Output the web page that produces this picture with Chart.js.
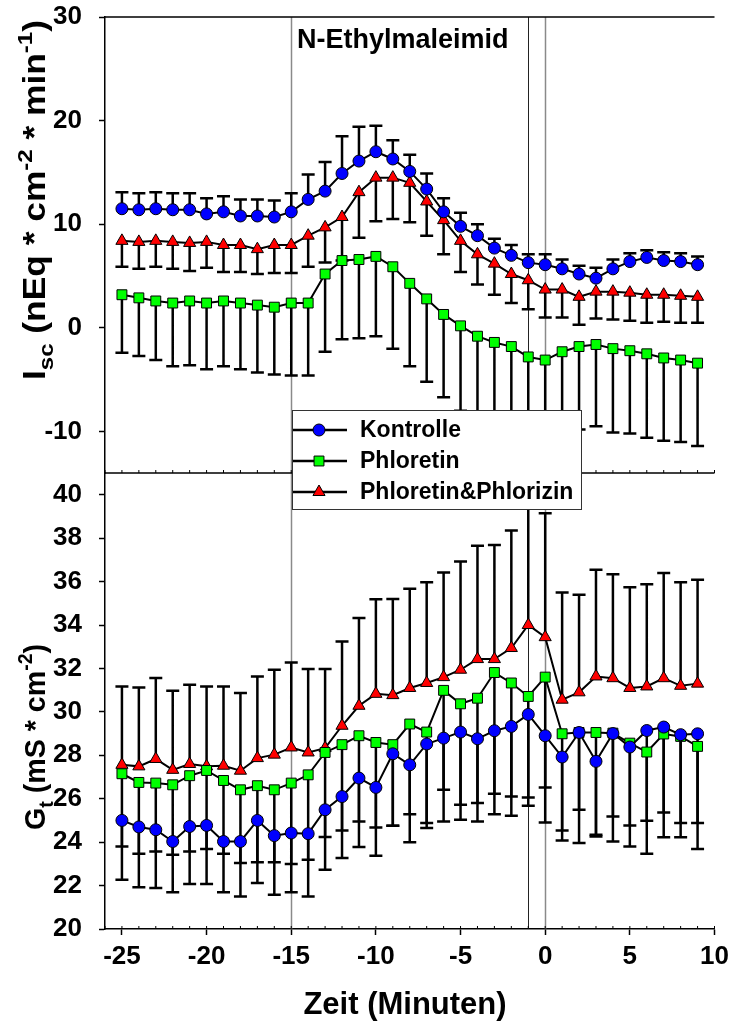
<!DOCTYPE html>
<html>
<head>
<meta charset="utf-8">
<script src="https://cdn.jsdelivr.net/npm/chart.js@4.4.1/dist/chart.umd.min.js"></script>
<style>
    html, body { margin: 0; padding: 0; background: #fff; }
    #wrap { width: 732px; height: 1027px; position: relative; }
</style>
</head>
<body>
<div id="wrap"><canvas id="myChart" width="732" height="1027"></canvas></div>
<script>
let ctx = document.getElementById('myChart');

// time axis (minutes)
let ZEIT = [-25, -24, -23, -22, -21, -20, -19, -18, -17, -16, -15, -14, -13, -12, -11, -10, -9, -8, -7, -6, -5, -4, -3, -2, -1, 0, 1, 2, 3, 4, 5, 6, 7, 8, 9]
let X_TICKS = [-25, -20, -15, -10, -5, 0, 5, 10]
let ISC_TICKS = [-10, 0, 10, 20, 30]
let GT_TICKS = [20, 22, 24, 26, 28, 30, 32, 34, 36, 38, 40]
let MARK_LINES = [-15, -1, 0]

// Isc (top panel)
let ISC_KONTROLLE = [11.5, 11.4, 11.5, 11.4, 11.4, 11.0, 11.2, 10.8, 10.8, 10.7, 11.2, 12.4, 13.2, 14.9, 16.1, 17.0, 16.3, 15.1, 13.4, 11.2, 9.8, 8.9, 7.7, 7.0, 6.3, 6.1, 5.7, 5.2, 4.8, 5.7, 6.4, 6.8, 6.5, 6.4, 6.1]
let ISC_KONTROLLE_ERR = [13.1, 13.0, 13.1, 13.0, 13.0, 12.5, 12.7, 12.4, 12.4, 12.3, 13.0, 14.8, 16.0, 18.5, 19.4, 19.5, 18.1, 16.7, 14.9, 12.5, 11.1, 10.0, 8.6, 8.0, 7.1, 7.1, 6.6, 6.0, 5.8, 6.6, 7.2, 7.5, 7.3, 7.2, 6.9]
let ISC_PHLORETIN = [3.2, 2.9, 2.6, 2.4, 2.6, 2.4, 2.6, 2.4, 2.2, 2.0, 2.4, 2.4, 5.2, 6.5, 6.6, 6.9, 5.9, 4.3, 2.8, 1.3, 0.2, -0.8, -1.4, -1.8, -2.8, -3.1, -2.3, -1.8, -1.6, -2.0, -2.2, -2.5, -2.9, -3.1, -3.4]
let ISC_PHLORETIN_ERR = [-2.4, -2.7, -3.1, -3.7, -3.6, -4.0, -3.7, -4.0, -4.3, -4.5, -4.6, -4.6, -2.3, -1.1, -1.0, -0.8, -2.0, -3.7, -5.2, -6.7, -8.0, -8.7, -9.0, -9.3, -9.8, -10.0, -9.9, -9.8, -9.5, -10.1, -10.2, -10.6, -10.9, -11.0, -11.4]
let ISC_PHLORIZIN = [8.4, 8.3, 8.4, 8.3, 8.2, 8.3, 8.0, 8.0, 7.6, 8.0, 8.0, 8.9, 9.7, 10.7, 13.1, 14.5, 14.5, 14.0, 12.2, 10.4, 8.4, 7.1, 6.2, 5.2, 4.6, 3.7, 3.7, 3.0, 3.5, 3.5, 3.4, 3.2, 3.2, 3.1, 3.0]
let ISC_PHLORIZIN_ERR = [5.9, 5.7, 5.9, 5.7, 5.5, 5.8, 5.4, 5.4, 5.2, 5.3, 5.3, 5.9, 6.3, 6.5, 8.7, 10.3, 10.5, 10.2, 8.9, 7.1, 5.4, 4.2, 3.2, 2.4, 1.8, 1.0, 1.0, 0.3, 0.9, 0.8, 0.7, 0.5, 0.6, 0.5, 0.5]

// Gt (bottom panel)
let GT_KONTROLLE = [25.0, 24.7, 24.57, 24.03, 24.72, 24.77, 24.03, 24.03, 25.0, 24.3, 24.42, 24.39, 25.49, 26.1, 26.95, 26.52, 28.07, 27.56, 28.52, 28.79, 29.07, 28.76, 29.13, 29.33, 29.88, 28.9, 27.92, 29.05, 27.72, 29.0, 28.38, 29.14, 29.3, 28.95, 28.99]
let GT_KONTROLLE_ERR = [23.8, 23.47, 23.57, 23.42, 23.57, 23.68, 23.47, 23.04, 23.07, 23.07, 22.99, 23.19, 24.24, 24.54, 24.95, 24.68, 24.76, 25.29, 24.88, 26.41, 25.72, 25.8, 26.23, 26.1, 26.06, 26.52, 24.54, 25.49, 24.34, 25.18, 24.77, 24.99, 25.37, 24.88, 24.88]
let GT_PHLORETIN = [27.15, 26.75, 26.72, 26.64, 27.06, 27.3, 26.84, 26.41, 26.6, 26.41, 26.72, 27.1, 28.13, 28.49, 28.9, 28.59, 28.49, 29.44, 29.07, 30.99, 30.37, 30.63, 31.81, 31.33, 30.71, 31.6, 28.99, 29.05, 29.05, 29.02, 28.56, 28.15, 28.98, 28.87, 28.41]
let GT_PHLORETIN_ERR = [22.27, 21.92, 21.89, 21.69, 22.07, 22.07, 21.69, 21.5, 22.12, 21.58, 21.69, 21.5, 22.73, 23.27, 23.78, 23.37, 24.76, 23.99, 24.65, 24.95, 25.03, 24.95, 25.29, 25.22, 25.68, 24.91, 24.08, 23.96, 24.26, 24.03, 23.8, 23.47, 24.22, 24.22, 23.68]
let GT_PHLORIZIN = [27.56, 27.49, 27.83, 27.33, 27.6, 27.49, 27.52, 27.29, 27.87, 28.03, 28.36, 28.13, 28.33, 29.36, 30.28, 30.83, 30.77, 31.1, 31.33, 31.6, 31.94, 32.43, 32.43, 32.94, 34.0, 33.44, 30.56, 30.9, 31.63, 31.55, 31.1, 31.17, 31.55, 31.2, 31.3]
let GT_PHLORIZIN_ERR = [31.17, 31.12, 31.56, 30.97, 31.25, 31.17, 31.17, 30.87, 31.63, 31.94, 32.27, 31.97, 31.97, 33.24, 34.32, 35.19, 35.2, 35.67, 35.97, 36.42, 36.92, 37.65, 37.68, 38.35, 40.2, 39.15, 35.5, 35.39, 36.54, 36.34, 35.74, 35.88, 36.39, 35.97, 36.08]

const FONT = "'Liberation Sans', Arial, sans-serif"
Chart.defaults.font.family = FONT
Chart.defaults.color = '#000'

let SERIES = [
    { label: 'Kontrolle', style: 'circle', radius: 6, color: '#0000ff' },
    { label: 'Phloretin', style: 'rect', radius: 7, color: '#00ff00' },
    { label: 'Phloretin&Phlorizin', style: 'triangle', radius: 7, color: '#ff0000' }
]

function makeSet(s, values, errEnd, axis) {
    return {
        label: s.label,
        data: ZEIT.map((x, i) => ({ x: x, y: values[i] })),
        errEnd: errEnd,
        yAxisID: axis,
        borderColor: '#000',
        borderWidth: 2,
        pointStyle: s.style,
        pointRadius: s.radius,
        pointBackgroundColor: s.color,
        pointBorderColor: '#000',
        pointBorderWidth: 1,
        tension: 0,
        fill: false
    }
}

// error bars, reference lines and axis frame
const framePlugin = {
    id: 'frame',
    beforeDatasetsDraw(chart) {
        let c = chart.ctx
        let xs = chart.scales.x
        let yt = chart.scales.yTop
        let area = chart.chartArea
        c.save()

        // vertical marker lines
        MARK_LINES.forEach(v => {
            let px = Math.round(xs.getPixelForValue(v)) + 0.5
            c.strokeStyle = v === -1 ? '#222' : '#8a8a8a'
            c.lineWidth = v === -1 ? 1 : 1.5
            c.beginPath(); c.moveTo(px, area.top); c.lineTo(px, area.bottom); c.stroke()
        })

        // top border + panel divider
        c.strokeStyle = '#000'
        c.lineWidth = 1.5
        c.beginPath()
        c.moveTo(area.left, area.top); c.lineTo(area.right, area.top)
        c.moveTo(area.left, yt.bottom); c.lineTo(area.right, yt.bottom)
        c.stroke()

        // minor ticks (pointing inward)
        c.lineWidth = 1
        c.beginPath()
        for (let v = -26; v <= 10; v++) {
            let px = xs.getPixelForValue(v)
            c.moveTo(px, yt.bottom); c.lineTo(px, yt.bottom - 3)
            c.moveTo(px, area.bottom); c.lineTo(px, area.bottom - 3)
        }
        c.stroke()

        // error bars
        c.lineWidth = 2.5
        chart.data.datasets.forEach(ds => {
            let ys = chart.scales[ds.yAxisID]
            c.beginPath()
            ds.data.forEach((p, i) => {
                let px = xs.getPixelForValue(p.x)
                let y0 = ys.getPixelForValue(p.y)
                let y1 = ys.getPixelForValue(ds.errEnd[i])
                c.moveTo(px, y0); c.lineTo(px, y1)
                c.moveTo(px - 6.5, y1); c.lineTo(px + 6.5, y1)
            })
            c.stroke()
        })
        c.restore()
    },
    afterDraw(chart) {
        let c = chart.ctx
        c.save()

        // legend box
        c.fillStyle = '#fff'
        c.fillRect(292, 410, 290, 100)
        c.strokeStyle = '#333'
        c.lineWidth = 1
        c.strokeRect(292.5, 410.5, 289, 99)
        SERIES.forEach((s, i) => {
            let y = 430 + i * 31
            c.strokeStyle = '#000'
            c.lineWidth = 2.5
            c.beginPath(); c.moveTo(293, y); c.lineTo(347, y); c.stroke()
            c.fillStyle = s.color
            c.lineWidth = 1
            Chart.helpers.drawPoint(c, { pointStyle: s.style, radius: s.radius, borderWidth: 1, rotation: 0 }, 319, y)
            c.fillStyle = '#000'
            c.font = 'bold 23px ' + FONT
            c.textAlign = 'left'
            c.textBaseline = 'middle'
            c.fillText(s.label, 360, y + 1)
        })

        // panel title
        c.fillStyle = '#000'
        c.font = 'bold 27px ' + FONT
        c.textAlign = 'left'
        c.textBaseline = 'alphabetic'
        c.fillText('N-Ethylmaleimid', 297, 48)

        // x title
        c.font = 'bold 31px ' + FONT
        c.textAlign = 'center'
        c.textBaseline = 'middle'
        c.fillText('Zeit (Minuten)', 405, 1005)

        // y titles with sub/superscripts
        drawRich(c, [
            { t: 'I' }, { t: 'sc', sub: true }, { t: ' (nEq * cm' }, { t: '-2', sup: true },
            { t: ' * min' }, { t: '-1', sup: true }, { t: ')' }
        ], 45, 200, 31, 360)
        drawRich(c, [
            { t: 'G' }, { t: 't', sub: true }, { t: ' (mS * cm' }, { t: '-2', sup: true }, { t: ')' }
        ], 45, 737, 30, 186)
        c.restore()
    }
}

// rotated label, stretched along its length to span the given size
function drawRich(c, parts, cx, cy, size, span) {
    c.save()
    c.translate(cx, cy)
    c.rotate(-Math.PI / 2)
    c.fillStyle = '#000'
    c.textAlign = 'left'
    c.textBaseline = 'alphabetic'
    let total = 0
    parts.forEach(p => {
        p.size = (p.sub || p.sup) ? size * 0.68 : size
        c.font = 'bold ' + p.size + 'px ' + FONT
        p.w = c.measureText(p.t).width
        total += p.w
    })
    c.scale(span / total, 1)
    let x = -total / 2
    parts.forEach(p => {
        c.font = 'bold ' + p.size + 'px ' + FONT
        let dy = p.sub ? size * 0.25 : (p.sup ? -size * 0.42 : 0)
        c.fillText(p.t, x, dy)
        x += p.w
    })
    c.restore()
}

function yAxis(min, max, ticks, weight) {
    return {
        type: 'linear',
        position: 'left',
        stack: 'panels',
        stackWeight: 1,
        weight: weight,
        min: min,
        max: max,
        afterBuildTicks: (s) => { s.ticks = ticks.map(v => ({ value: v })) },
        afterFit: (s) => { s.width = 105; s.paddingTop = 0; s.paddingBottom = 0 },
        ticks: { font: { size: 26, weight: 'bold' }, color: '#000', padding: 17, autoSkip: false },
        grid: { drawOnChartArea: false, tickLength: 6, tickColor: '#000', tickWidth: 1.5 },
        border: { color: '#000', width: 1.5 }
    }
}

let myChart = new Chart(ctx, {
    type: 'line',
    data: {
        datasets: [
            makeSet(SERIES[0], ISC_KONTROLLE, ISC_KONTROLLE_ERR, 'yTop'),
            makeSet(SERIES[2], ISC_PHLORIZIN, ISC_PHLORIZIN_ERR, 'yTop'),
            makeSet(SERIES[1], ISC_PHLORETIN, ISC_PHLORETIN_ERR, 'yTop'),
            makeSet(SERIES[0], GT_KONTROLLE, GT_KONTROLLE_ERR, 'yBot'),
            makeSet(SERIES[1], GT_PHLORETIN, GT_PHLORETIN_ERR, 'yBot'),
            makeSet(SERIES[2], GT_PHLORIZIN, GT_PHLORIZIN_ERR, 'yBot')
        ]
    },
    options: {
        responsive: false,
        animation: false,
        devicePixelRatio: 1,
        layout: { padding: { top: 17, right: 17.5, left: 0, bottom: 0 } },
        plugins: { legend: { display: false }, tooltip: { enabled: false } },
        scales: {
            x: {
                type: 'linear',
                position: 'bottom',
                min: -26,
                max: 10,
                afterBuildTicks: (s) => { s.ticks = X_TICKS.map(v => ({ value: v })) },
                afterFit: (s) => { s.height = 98; s.paddingLeft = 0; s.paddingRight = 0 },
                ticks: { font: { size: 26, weight: 'bold' }, color: '#000', padding: 6, maxRotation: 0, autoSkip: false },
                grid: { drawOnChartArea: false, tickLength: 6, tickColor: '#000', tickWidth: 1.5 },
                border: { color: '#000', width: 1.5 }
            },
            yTop: yAxis(-14, 30, ISC_TICKS, 1),
            yBot: yAxis(20, 41, GT_TICKS, 0)
        }
    },
    plugins: [framePlugin]
});
</script>
</body>
</html>
